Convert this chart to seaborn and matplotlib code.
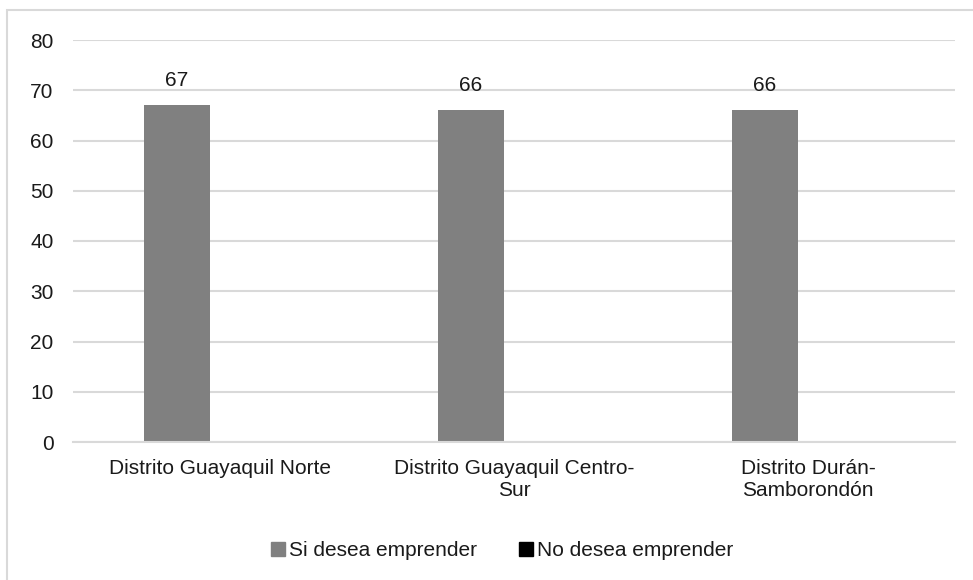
import pandas as pd
import matplotlib.pyplot as plt
import matplotlib.patches as mpatches
import seaborn as sns

sns.set_style("white")
plt.rcParams["font.family"] = ["Liberation Sans", "DejaVu Sans"]

# Data
distritos = [
    "Distrito Guayaquil Norte",
    "Distrito Guayaquil Centro-\nSur",
    "Distrito Durán-\nSamborondón",
]
si_desea = [67, 66, 66]
no_desea = [0, 0, 0]
series = ["Si desea emprender", "No desea emprender"]
colores = ["#808080", "#000000"]

data = pd.DataFrame({
    "Distrito": distritos * 2,
    "Respuesta": [series[0]] * 3 + [series[1]] * 3,
    "Valor": si_desea + no_desea,
})

fs = 15
txt = "#1a1a1a"

fig = plt.figure(figsize=(9.73, 5.8), dpi=100)
ax = fig.add_axes([73 / 973, 138 / 580, 882 / 973, 402 / 580])

sns.barplot(data=data, x="Distrito", y="Valor", hue="Respuesta",
            hue_order=series, palette=colores, width=0.585, gap=0.244,
            errorbar=None, ax=ax, legend=False, linewidth=0)

# Value labels only on the first series
ax.bar_label(ax.containers[0], padding=11, fontsize=fs, color=txt)

ax.set_ylim(0, 80)
ax.set_yticks(range(0, 81, 10))
ax.set_xlim(-0.5, 2.5)
ax.yaxis.grid(True, color="#d9d9d9", linewidth=1.5)
ax.set_axisbelow(True)
for s in ["top", "right", "left"]:
    ax.spines[s].set_visible(False)
ax.spines["bottom"].set_color("#d9d9d9")
ax.spines["bottom"].set_linewidth(1.5)
ax.tick_params(axis="both", length=0, labelsize=fs, colors=txt)
ax.tick_params(axis="y", pad=14)
ax.tick_params(axis="x", pad=12)
ax.set_xlabel("")
ax.set_ylabel("")
for lbl in ax.get_xticklabels():
    lbl.set_horizontalalignment("center")
    lbl.set_multialignment("center")
    lbl.set_linespacing(1.25)

handles = [mpatches.Patch(color=c, label=s) for c, s in zip(colores, series)]
fig.legend(handles=handles, loc="center", bbox_to_anchor=(502 / 973, 29 / 580),
           ncol=2, frameon=False, fontsize=fs, handlelength=0.67, handleheight=0.67,
           handletextpad=0.2, columnspacing=2.0, labelcolor=txt)

# Outer chart border (top and left visible)
border = mpatches.Rectangle((7 / 973, -0.1), 1.2, 1.1 - 10 / 580,
                            transform=fig.transFigure, fill=False,
                            edgecolor="#d9d9d9", linewidth=1.5)
fig.patches.append(border)

fig.savefig("out.png", dpi=100)
plt.close(fig)
